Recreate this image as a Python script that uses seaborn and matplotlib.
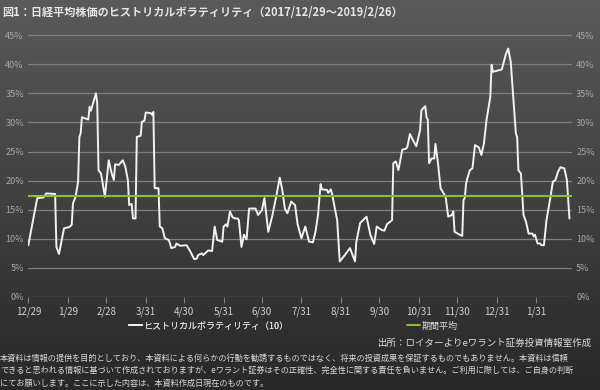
import numpy as np
import pandas as pd
import matplotlib
matplotlib.use("Agg")
import matplotlib.pyplot as plt
import seaborn as sns

dates = [
    "2017-12-29", "2018-01-05", "2018-01-10", "2018-01-12", "2018-01-19", "2018-01-20",
    "2018-01-22", "2018-01-26", "2018-01-30", "2018-02-01", "2018-02-02", "2018-02-04",
    "2018-02-06", "2018-02-07", "2018-02-08", "2018-02-09", "2018-02-14", "2018-02-15",
    "2018-02-16", "2018-02-20", "2018-02-21", "2018-02-22", "2018-02-24", "2018-02-27",
    "2018-03-02", "2018-03-04", "2018-03-06", "2018-03-07", "2018-03-10", "2018-03-13",
    "2018-03-15", "2018-03-17", "2018-03-18", "2018-03-20", "2018-03-21", "2018-03-23",
    "2018-03-24", "2018-03-27", "2018-03-28", "2018-03-30", "2018-03-31", "2018-04-04",
    "2018-04-05", "2018-04-06", "2018-04-07", "2018-04-10", "2018-04-11", "2018-04-13",
    "2018-04-15", "2018-04-18", "2018-04-19", "2018-04-20", "2018-04-23", "2018-04-24",
    "2018-04-27", "2018-05-02", "2018-05-05", "2018-05-08", "2018-05-10", "2018-05-11",
    "2018-05-14", "2018-05-15", "2018-05-19", "2018-05-22", "2018-05-24", "2018-05-26",
    "2018-05-30", "2018-05-31", "2018-06-02", "2018-06-03", "2018-06-05", "2018-06-07",
    "2018-06-09", "2018-06-11", "2018-06-12", "2018-06-14", "2018-06-16", "2018-06-18",
    "2018-06-20", "2018-06-25", "2018-06-27", "2018-06-30", "2018-07-02", "2018-07-05",
    "2018-07-08", "2018-07-11", "2018-07-14", "2018-07-16", "2018-07-18", "2018-07-20",
    "2018-07-23", "2018-07-26", "2018-07-28", "2018-07-31", "2018-08-03", "2018-08-06",
    "2018-08-09", "2018-08-11", "2018-08-13", "2018-08-15", "2018-08-16", "2018-08-20",
    "2018-08-21", "2018-08-23", "2018-08-24", "2018-08-28", "2018-08-30", "2018-09-03",
    "2018-09-07", "2018-09-11", "2018-09-12", "2018-09-15", "2018-09-20", "2018-09-23",
    "2018-09-26", "2018-09-28", "2018-10-02", "2018-10-04", "2018-10-06", "2018-10-10",
    "2018-10-11", "2018-10-13", "2018-10-15", "2018-10-18", "2018-10-21", "2018-10-22",
    "2018-10-24", "2018-10-27", "2018-10-29", "2018-11-01", "2018-11-02", "2018-11-05",
    "2018-11-06", "2018-11-07", "2018-11-08", "2018-11-10", "2018-11-12", "2018-11-13",
    "2018-11-15", "2018-11-17", "2018-11-21", "2018-11-23", "2018-11-26", "2018-11-27",
    "2018-11-28", "2018-12-02", "2018-12-04", "2018-12-05", "2018-12-06", "2018-12-07",
    "2018-12-08", "2018-12-10", "2018-12-12", "2018-12-14", "2018-12-17", "2018-12-19",
    "2018-12-21", "2018-12-23", "2018-12-26", "2018-12-27", "2018-12-28", "2019-01-04",
    "2019-01-07", "2019-01-09", "2019-01-11", "2019-01-15", "2019-01-16", "2019-01-17",
    "2019-01-19", "2019-01-21", "2019-01-23", "2019-01-25", "2019-01-28", "2019-01-29",
    "2019-01-30", "2019-02-01", "2019-02-03", "2019-02-04", "2019-02-06", "2019-02-08",
    "2019-02-11", "2019-02-13", "2019-02-15", "2019-02-17", "2019-02-19", "2019-02-22",
    "2019-02-24", "2019-02-26",
]

hv10 = [
    8.9, 17.0, 17.1, 17.8, 17.7, 8.6,
    7.4, 11.8, 12.0, 12.4, 16.1, 17.2,
    19.8, 27.5, 28.1, 30.9, 30.5, 32.7,
    32.0, 35.0, 33.3, 21.8, 21.2, 17.2,
    23.5, 21.5, 20.1, 22.8, 22.7, 23.5,
    22.4, 20.1, 15.8, 16.0, 13.5, 13.5,
    27.5, 27.7, 30.1, 30.3, 31.7, 31.6,
    31.3, 31.8, 18.7, 18.7, 12.1, 11.8,
    10.1, 9.8, 9.2, 8.4, 8.6, 9.2,
    8.8, 8.9, 7.8, 6.5, 6.6, 7.2,
    7.5, 7.2, 8.0, 7.9, 12.1, 9.8,
    9.5, 12.1, 12.5, 12.1, 14.7, 13.7,
    13.5, 13.5, 13.2, 8.6, 10.7, 9.9,
    15.2, 15.2, 14.1, 14.9, 17.0, 11.2,
    13.8, 17.0, 20.5, 18.4, 15.2, 14.4,
    16.4, 15.8, 12.5, 10.1, 12.1, 9.5,
    9.4, 11.2, 14.1, 19.4, 18.5, 18.4,
    17.9, 18.5, 17.7, 13.2, 6.1, 7.2,
    8.4, 6.1, 9.5, 12.7, 13.8, 10.7,
    9.1, 12.1, 11.5, 11.4, 12.5, 13.2,
    23.0, 23.3, 21.8, 25.3, 25.5, 25.8,
    28.0, 26.7, 25.9, 28.7, 32.1, 32.8,
    30.9, 30.5, 23.0, 23.8, 23.8, 26.3,
    23.0, 18.7, 17.2, 13.8, 14.1, 14.7,
    11.2, 10.7, 10.5, 16.7, 17.0, 19.5,
    20.4, 21.8, 22.1, 26.1, 25.7, 24.4,
    26.4, 30.4, 34.4, 39.9, 38.7, 39.1,
    41.6, 42.7, 40.4, 28.1, 27.5, 21.8,
    21.2, 14.1, 12.9, 10.9, 10.9, 10.4,
    10.7, 9.2, 9.2, 8.9, 8.9, 13.2,
    17.0, 19.8, 20.1, 21.5, 22.3, 22.1,
    20.1, 13.5,
]

period_mean = 17.4

tick_dates = ["2017-12-29", "2018-01-29", "2018-02-28", "2018-03-31", "2018-04-30",
              "2018-05-31", "2018-06-30", "2018-07-31", "2018-08-31", "2018-09-30",
              "2018-10-31", "2018-11-30", "2018-12-31", "2019-01-31"]
tick_labels = ["12/29", "1/29", "2/28", "3/31", "4/30", "5/31", "6/30", "7/31",
               "8/31", "9/30", "10/31", "11/30", "12/31", "1/31"]
y_ticks = [0, 5, 10, 15, 20, 25, 30, 35, 40, 45]

title = "図1：日経平均株価のヒストリカルボラティリティ（2017/12/29～2019/2/26）"
series_label = "ヒストリカルボラティリティ（10）"
mean_label = "期間平均"
source = "出所：ロイターよりeワラント証券投資情報室作成"
disclaimer = [
    "本資料は情報の提供を目的としており、本資料による何らかの行動を勧誘するものではなく、将来の投資成果を保証するものでもありません。本資料は信頼",
    "できると思われる情報に基づいて作成されておりますが、eワラント証券はその正確性、完全性に関する責任を負いません。ご利用に際しては、ご自身の判断",
    "にてお願いします。ここに示した内容は、本資料作成日現在のものです。",
]

df = pd.DataFrame({"date": pd.to_datetime(dates), "hv": hv10})

sns.set_theme(style="dark")
plt.rcParams['font.family'] = ['Noto Sans CJK JP', 'DejaVu Sans']

fig = plt.figure(figsize=(6, 3.9), dpi=100)

# background gradient
bg = fig.add_axes([0, 0, 1, 1], zorder=-10)
grad = np.linspace(0, 1, 256).reshape(-1, 1)
cmap = matplotlib.colors.LinearSegmentedColormap.from_list("bg", ["#5a5a5a", "#282828"])
bg.imshow(grad, aspect="auto", cmap=cmap, extent=[0, 1, 0, 1])
bg.set_axis_off()

ax = fig.add_axes([28 / 600, 1 - 297 / 390, 544 / 600, (297 - 29.3) / 390])
ax.set_facecolor("none")

sns.lineplot(data=df, x="date", y="hv", ax=ax, color="#f2f2f2", linewidth=1.4,
             label=series_label, legend=False)
mean_line = ax.axhline(period_mean, color="#8cbb3c", linewidth=1.5, label=mean_label)

ax.set_ylim(0, 46)
ax.set_xlim(pd.Timestamp("2017-12-28 18:00"), pd.Timestamp("2019-02-28"))
ax.set_yticks(y_ticks)
ax.set_yticklabels([f"{v}%" for v in y_ticks])
for v in y_ticks:
    ax.axhline(v, color="#7e7e7e", linewidth=0.9, zorder=0)
ax.grid(False)

ax.set_xticks(pd.to_datetime(tick_dates))
ax.set_xticklabels(tick_labels)
ax.tick_params(axis="x", colors="#7e7e7e", labelcolor="#cfcfcf", labelsize=7,
               length=4, width=0.8, direction="out", pad=3, bottom=True)
ax.tick_params(axis="y", labelcolor="#a8a8a8", labelsize=6.5, length=0,
               labelleft=True, labelright=True, pad=3)
for s in ax.spines.values():
    s.set_visible(False)
ax.set_xlabel("")
ax.set_ylabel("")

fig.text(0.004, 1 - 12 / 390, title, color="#e6e6e6", fontsize=8, fontweight="bold",
         va="center", ha="left")

h_series = ax.get_lines()[0]
leg1 = fig.legend([h_series], [series_label], loc="center left",
                  bbox_to_anchor=(124 / 600, 1 - 326 / 390), frameon=False,
                  fontsize=6.5, handlelength=1.5, handletextpad=0.2, borderpad=0,
                  labelcolor="#dcdcdc")
leg2 = fig.legend([mean_line], [mean_label], loc="center left",
                  bbox_to_anchor=(402 / 600, 1 - 326 / 390), frameon=False,
                  fontsize=6.5, handlelength=1.5, handletextpad=0.2, borderpad=0,
                  labelcolor="#dcdcdc")
fig.add_artist(leg1)

fig.text(592 / 600, 1 - 343 / 390, source, color="#dcdcdc", fontsize=6.8,
         ha="right", va="center")

for i, line in enumerate(disclaimer):
    fig.text(0.0, 1 - (358 + i * 12.5) / 390, line, color="#d8d8d8", fontsize=5.9,
             ha="left", va="center")

fig.savefig("out.png", dpi=100)
